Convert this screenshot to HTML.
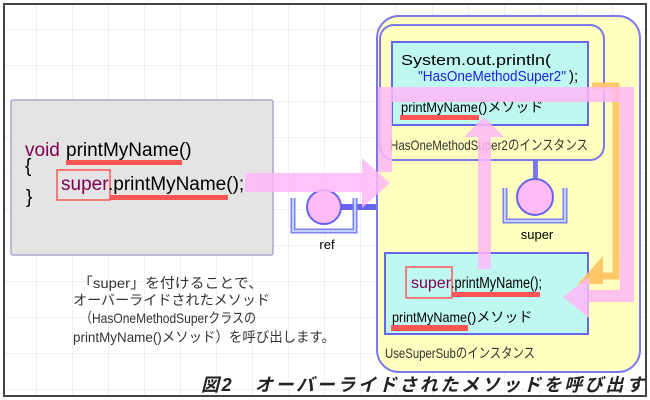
<!DOCTYPE html>
<html><head><meta charset="utf-8"><style>
body{margin:0;width:650px;height:400px;overflow:hidden;background:#fff}
svg{display:block}
text{font-family:"Liberation Sans","Noto Sans CJK JP",sans-serif}
</style></head><body>
<svg width="650" height="400" viewBox="0 0 650 400">
<defs>
<pattern id="g" x="1" y="-6" width="36" height="36" patternUnits="userSpaceOnUse">
<path d="M36 0V36M0 36H36" stroke="#ececec" stroke-width="1.5" fill="none"/>
</pattern>
</defs>
<rect x="0" y="0" width="650" height="400" fill="#fff"/>
<rect x="5" y="5" width="640" height="390" fill="url(#g)"/>
<rect x="4" y="4" width="642" height="392" fill="none" stroke="#444" stroke-width="2"/>

<!-- gray code box -->
<rect x="11" y="100" width="262" height="155" fill="#e4e4e4" stroke="#a8a8cc" stroke-width="1.5" rx="2"/>
<text x="25" y="156" font-size="19" fill="#800050">void</text>
<text x="66" y="156" font-size="19" fill="#000">printMyName()</text>
<rect x="66" y="160" width="116" height="5" fill="#f55"/>
<text x="25" y="172" font-size="19">{</text>
<text x="26" y="203" font-size="19">}</text>
<rect x="57" y="170" width="53" height="30" fill="none" stroke="#f55" stroke-width="1.5"/>
<text x="61" y="190" font-size="19" fill="#800050">super</text>
<text x="108" y="190" font-size="19">.printMyName();</text>
<rect x="110" y="195" width="118" height="5" fill="#f55"/>

<!-- caption text left -->
<g font-size="14" fill="#333">
<text x="78" y="288" textLength="185" lengthAdjust="spacingAndGlyphs">「super」を付けることで、</text>
<text x="73" y="305" textLength="197" lengthAdjust="spacingAndGlyphs">オーバーライドされたメソッド</text>
<text x="80" y="323" textLength="176" lengthAdjust="spacingAndGlyphs">（HasOneMethodSuperクラスの</text>
<text x="73" y="342" textLength="262" lengthAdjust="spacingAndGlyphs">printMyName()メソッド）を呼び出します。</text>
</g>

<!-- ref connector -->
<rect x="340" y="204" width="40" height="6" fill="#6464f0"/>

<!-- yellow outer -->
<rect x="377" y="16" width="263" height="356" rx="22" fill="#ffffc0" stroke="#7878f0" stroke-width="2"/>
<!-- upper instance -->
<rect x="380" y="25" width="224" height="135" rx="14" fill="#ffffc0" stroke="#7878f0" stroke-width="2"/>
<rect x="392" y="42" width="196" height="83" fill="#bff8f0" stroke="#6464f0" stroke-width="2"/>
<text x="401" y="65" font-size="15" textLength="150" lengthAdjust="spacingAndGlyphs">System.out.println(</text>
<text x="418" y="81" font-size="15" fill="#2020e0" textLength="148" lengthAdjust="spacingAndGlyphs">"HasOneMethodSuper2"</text>
<text x="569" y="81" font-size="15">);</text>
<text x="401" y="112" font-size="14" font-family="Liberation Mono,monospace" textLength="77" lengthAdjust="spacingAndGlyphs">printMyName</text>
<text x="478" y="112" font-size="14">()メソッド</text>
<rect x="400" y="115" width="79" height="5" fill="#f55"/>
<text x="390" y="150" font-size="14" fill="#333" textLength="198" lengthAdjust="spacingAndGlyphs">HasOneMethodSuper2のインスタンス</text>

<!-- lower instance -->
<rect x="385" y="253" width="203" height="81" fill="#bff8f0" stroke="#6464f0" stroke-width="2"/>
<rect x="406" y="267" width="46" height="31" fill="none" stroke="#f55" stroke-width="1.5"/>
<text x="411" y="288" font-size="16" fill="#800050">super</text>
<text x="451" y="288" font-size="16" textLength="91" lengthAdjust="spacingAndGlyphs">.printMyName();</text>
<rect x="452" y="292" width="88" height="5" fill="#f55"/>
<text x="392" y="322" font-size="14" font-family="Liberation Mono,monospace" textLength="75" lengthAdjust="spacingAndGlyphs">printMyName</text>
<text x="467" y="322" font-size="14">()メソッド</text>
<rect x="391" y="325" width="77" height="6" fill="#f55"/>
<text x="385" y="358" font-size="14" fill="#333" textLength="150" lengthAdjust="spacingAndGlyphs">UseSuperSubのインスタンス</text>

<!-- super cup -->
<rect x="533" y="160" width="5" height="20" fill="#7878f0"/>
<path d="M505 188V221H565V188" fill="none" stroke="#8080f0" stroke-width="5"/>
<path d="M505 188V221H565V188" fill="none" stroke="#c0d4ff" stroke-width="2"/>
<circle cx="535" cy="197" r="18" fill="#ffbbf5" stroke="#6464f0" stroke-width="2"/>
<text x="537" y="239" font-size="13" text-anchor="middle">super</text>

<!-- ref cup -->
<path d="M293 198V231H355V198" fill="none" stroke="#8080f0" stroke-width="5"/>
<path d="M293 198V231H355V198" fill="none" stroke="#c0d4ff" stroke-width="2"/>
<circle cx="324" cy="207" r="17" fill="#ffbbf5" stroke="#6464f0" stroke-width="2"/>
<text x="327" y="249" font-size="13" text-anchor="middle">ref</text>

<!-- orange path -->
<path d="M592 86H616V276H600" fill="none" stroke="#ffc060" stroke-width="7" opacity="0.9"/>
<path d="M603 256V284H578Z" fill="#ffc060" opacity="0.9"/>

<!-- pink paths -->
<g fill="#ffb8f8" opacity="0.85">
<rect x="245" y="173" width="118" height="19"/>
<path d="M362 158L390 183L362 208Z"/>
<rect x="378" y="87" width="256" height="15"/>
<rect x="378" y="102" width="14" height="70"/>
<rect x="620" y="102" width="14" height="200"/>
<rect x="588" y="290" width="32" height="12"/>
<path d="M563 297L589 277V318Z"/>
<rect x="478" y="137" width="13" height="132"/>
<path d="M464 137L484 117L504 137Z"/>
</g>

<!-- bottom caption -->
<text x="201" y="391" font-size="18" font-weight="bold" font-style="italic" fill="#222" textLength="443" lengthAdjust="spacing">図2　オーバーライドされたメソッドを呼び出す</text>
</svg>
</body></html>
